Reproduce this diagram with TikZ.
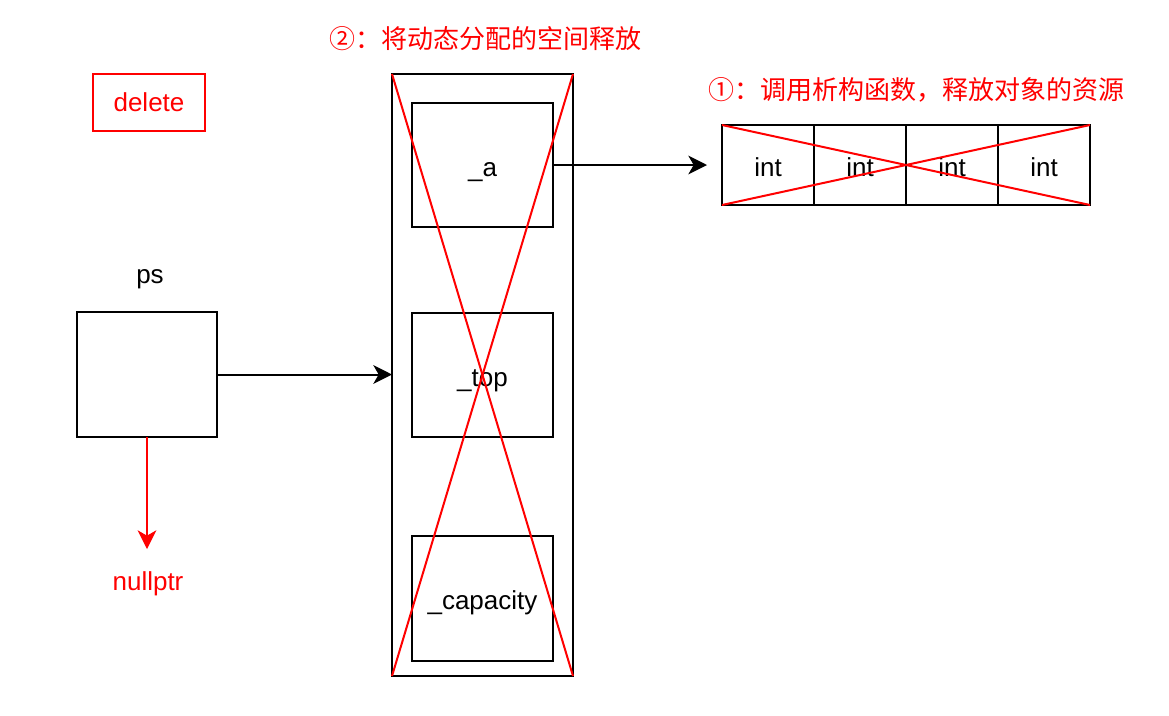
\documentclass[tikz,border=0pt]{standalone}
\usepackage{fontspec}
\setmainfont{Liberation Sans}
\newfontfamily\cjk{Noto Sans CJK SC}
\usetikzlibrary{arrows.meta}
\definecolor{myred}{RGB}{255,0,0}
\begin{document}
\begin{tikzpicture}[x=0.75pt,y=-0.75pt,
  sz/.style 2 args={minimum width=#1*0.75pt,minimum height=#2*0.75pt},
  fixtxt/.style={text height=20pt,text depth=3.5pt},
  box/.style={draw=black,line width=1.5pt,rectangle,outer sep=0pt,inner sep=0pt,fixtxt,font=\fontsize{19.5pt}{22pt}\selectfont},
  redbox/.style={draw=myred,line width=1.5pt,rectangle,outer sep=0pt,inner sep=0pt,text=myred,font=\fontsize{19.5pt}{22pt}\selectfont},
  lbl/.style={inner sep=0pt,fixtxt,font=\fontsize{19.5pt}{22pt}\selectfont},
  redlbl/.style={lbl,text=myred},
  cjklbl/.style={inner sep=0pt,text=myred,font=\cjk\fontsize{19.5pt}{22pt}\selectfont},
  conn/.style={line width=1.5pt,-{Stealth[length=14pt,width=14pt,inset=4pt]}},
  cross/.style={draw=myred,line width=1.5pt}
]
\useasboundingbox (0,0) rectangle (1169,715);

% delete box
\node[redbox,sz={112}{57}] (del) at (149,102.5) {delete};

% titles
\node[cjklbl] (t2) at (485,39) {②：将动态分配的空间释放};
\node[cjklbl] (t1) at (916,90) {①：调用析构函数，释放对象的资源};

% outer column
\node[box,sz={181}{602}] (outer) at (482.5,375) {};
\node[box,sz={141}{124}] (a) at (482.5,165) {\_a};
\node[box,sz={141}{124}] (top) at (482.5,375) {\_top};
\node[box,sz={141}{125}] (cap) at (482.5,598.5) {\_capacity};

% ps
\node[lbl] (pslbl) at (150,272) {ps};
\node[box,sz={140}{125}] (ps) at (147,374.5) {};
\node[redlbl] (null) at (148,579) {nullptr};
\coordinate (nulltip) at (147,549);

% array
\node[box,sz={92}{80}] (c1) at (768,165) {int};
\node[box,sz={92}{80}] (c2) at (860,165) {int};
\node[box,sz={92}{80}] (c3) at (952,165) {int};
\node[box,sz={92}{80}] (c4) at (1044,165) {int};
\coordinate (atip) at (707,165);

% connectors
\draw[conn] (a.east) -- (atip);
\draw[conn] (ps.east) -- (outer.west |- ps.east);
\draw[conn,draw=myred,fill=myred] (ps.south) -- (nulltip);

% crosses
\draw[cross] (outer.north west) -- (outer.south east);
\draw[cross] (outer.north east) -- (outer.south west);
\draw[cross] (c1.north west) -- (c4.south east);
\draw[cross] (c4.north east) -- (c1.south west);
\end{tikzpicture}
\end{document}
